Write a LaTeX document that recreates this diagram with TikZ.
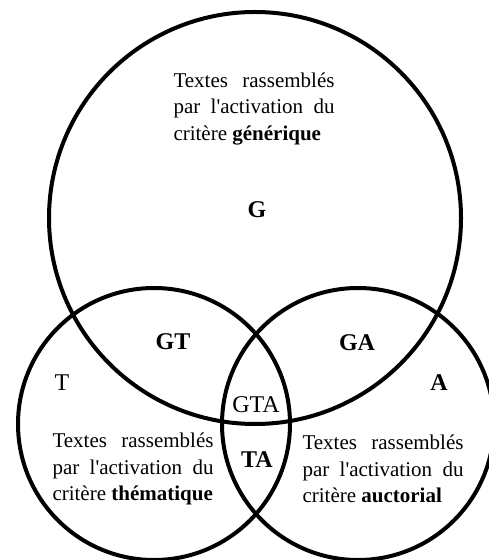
\documentclass[tikz,border=0pt]{standalone}
\usepackage{fontspec}
\setmainfont{Liberation Serif}
\usetikzlibrary{positioning}

\newcommand{\nohyph}{\hyphenpenalty=10000\exhyphenpenalty=10000\relax}

\begin{document}
\begin{tikzpicture}[
    x=0.5pt,
    y=-0.5pt,
    venn/.style={line width=2pt},
    zone/.style={font=\fontsize{12}{14}\selectfont\bfseries, inner sep=0pt},
    plainzone/.style={font=\fontsize{12}{14}\selectfont, inner sep=0pt},
    blurb/.style={text width=80.5pt, align=justify, inner sep=0pt,
                  font=\fontsize{10.5}{13.25}\selectfont\nohyph},
]

    \useasboundingbox (0,0) rectangle (488,560);

    \coordinate (cG) at (255,218);
    \coordinate (cT) at (154,424);
    \coordinate (cA) at (358,424);

    \draw[venn] (cG) circle [radius=206];
    \draw[venn] (cT) circle [radius=136];
    \draw[venn] (cA) circle [radius=136];

    \node[blurb] (txtG) at (254,109)
        {Textes rassemblés par l\textquotesingle activation du critère \textbf{générique}};
    \node[blurb] (txtT) at (133,469)
        {Textes rassemblés par l\textquotesingle activation du critère \textbf{thématique}};
    \node[blurb] (txtA) at (383,469)
        {Textes rassemblés par l\textquotesingle activation du critère \textbf{auctorial}};

    \node[zone]      (G)   at (257,210) {G};
    \node[zone]      (GT)  at (173,342) {GT};
    \node[zone]      (GA)  at (357,343) {GA};
    \node[plainzone] (T)   at (62,383)  {T};
    \node[zone]      (A)   at (439,383) {A};
    \node[plainzone] (GTA) at (256,405) {GTA};
    \node[zone]      (TA)  at (257,460) {TA};

\end{tikzpicture}
\end{document}
